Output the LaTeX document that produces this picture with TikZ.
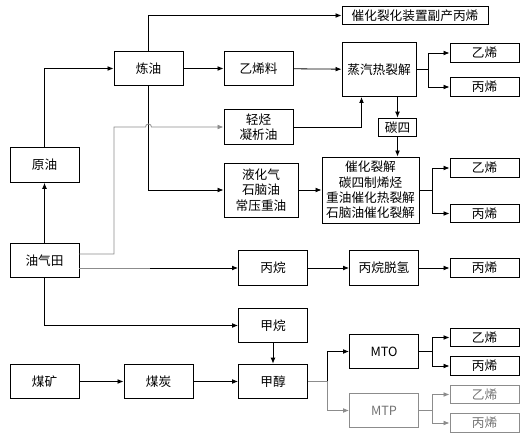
\documentclass[tikz,border=0pt]{standalone}
\usepackage{fontspec}
\newfontfamily\cjkfont{Noto Sans CJK SC}
\usetikzlibrary{arrows.meta}

\begin{document}
\begin{tikzpicture}[x=0.75pt,y=0.75pt,yscale=-1,xscale=1,
	>={Latex[length=4.5pt,width=3.6pt]},
	box/.style={draw,line width=0.7pt,inner sep=0.75pt,align=center,minimum width=51.75pt,minimum height=26pt,font=\cjkfont\fontsize{9.5}{11.5}\selectfont},
	prod/.style={box,minimum height=14pt},
	link/.style={->,line width=0.6pt},
	greylink/.style={link,draw=black!45},
	faded/.style={draw=black!45,text=black!55}]
	\useasboundingbox (0,0) rectangle (532,445);
	
	%Shape: sources
	\node [box] (yuanyou) at (44.5,165) {原油};
	\node [box] (youqitian) at (44.5,260.5) {油气田};
	\node [box] (meikuang) at (44.5,381.5) {煤矿};
	\node [box] (meitan) at (158.5,381.5) {煤炭};
	
	%Shape: refinery branch
	\node [box] (lianyou) at (148.5,68.5) {炼油};
	\node [box] (yixiliao) at (258.5,68.5) {乙烯料};
	\node [box] (qingting) at (258.5,127) {轻烃\\凝析油};
	\node [box,minimum width=55.5pt,minimum height=40.5pt] (yehuaqi) at (261,190) {液化气\\石脑油\\常压重油};
	\node [prod,minimum width=109.5pt] (fuchan) at (415,15.5) {催化裂化装置副产丙烯};
	\node [box,minimum width=55.5pt,minimum height=41pt] (zhengqi) at (379,69.5) {蒸汽热裂解};
	\node [prod,minimum width=29pt] (tansi) at (397.5,127.5) {碳四};
	\node [box,minimum width=72.75pt,minimum height=49.5pt] (liejie) at (370.5,190) {催化裂解\\碳四制烯烃\\重油催化热裂解\\石脑油催化裂解};
	
	%Shape: gas and coal branch
	\node [box] (bingwan) at (273,268) {丙烷};
	\node [box] (tuoqing) at (384,268) {丙烷脱氢};
	\node [box] (jiawan) at (273,325.5) {甲烷};
	\node [box] (jiachun) at (273,381.5) {甲醇};
	\node [box] (mto) at (384,351.5) {MTO};
	\node [box,faded] (mtp) at (384,410.5) {MTP};
	
	%Shape: products
	\node [prod] (yixi1) at (484.5,53) {乙烯};
	\node [prod] (bingxi1) at (484.5,87) {丙烯};
	\node [prod] (yixi2) at (484.5,168) {乙烯};
	\node [prod] (bingxi2) at (484.5,213.5) {丙烯};
	\node [prod] (bingxi3) at (484.5,268) {丙烯};
	\node [prod] (yixi4) at (484.5,337.5) {乙烯};
	\node [prod] (bingxi4) at (484.5,366) {丙烯};
	\node [prod,faded] (yixi5) at (484.5,394.5) {乙烯};
	\node [prod,faded] (bingxi5) at (484.5,423) {丙烯};
	
	% turn points
	\coordinate (gturn) at (114,254);
	\coordinate (gsplit) at (150,268);
	
	%Straight Lines: crude oil and refinery
	\draw [link] (youqitian) -- (yuanyou);
	\draw [link] (yuanyou.north) |- (lianyou.west);
	\draw [link] (lianyou.north) |- (fuchan.west);
	\draw [link] (lianyou) -- (yixiliao);
	\draw [link] (lianyou.south) |- (yehuaqi.west);
	\draw [greylink] (youqitian.east |- gturn) -- (gturn) -- (114,127) -- (145.5,127) arc [start angle=180,end angle=360,radius=3] -- (qingting.west);
	\draw [link] (yixiliao) -- (zhengqi);
	\draw [link] (qingting.east) -| (361.5,97);
	\draw [link] (zhengqi.south -| tansi.north) -- (tansi.north);
	\draw [link] (tansi.south) -- (tansi.south |- liejie.north);
	\draw [link] (yehuaqi) -- (liejie);
	\draw [link] (zhengqi.east) -- ++(12,0) |- (yixi1.west);
	\draw [link] (zhengqi.east) -- ++(12,0) |- (bingxi1.west);
	\draw [link] (liejie.east) -- ++(13,0) |- (yixi2.west);
	\draw [link] (liejie.east) -- ++(13,0) |- (bingxi2.west);
	
	%Straight Lines: gas field and coal
	\draw [line width=0.6pt,draw=black!45] (youqitian.east |- gsplit) -- (gsplit);
	\draw [link] (gsplit) -- (bingwan.west);
	\draw [link] (bingwan) -- (tuoqing);
	\draw [link] (tuoqing) -- (bingxi3);
	\draw [link] (youqitian.south) |- (jiawan.west);
	\draw [link] (jiawan) -- (jiachun);
	\draw [link] (meikuang) -- (meitan);
	\draw [link] (meitan) -- (jiachun);
	\draw [link] (jiachun.east) -- ++(19,0) |- (mto.west);
	\draw [link,draw=black!45] (jiachun.east) -- ++(19,0) |- (mtp.west);
	\draw [link] (mto.east) -- ++(13,0) |- (yixi4.west);
	\draw [link] (mto.east) -- ++(13,0) |- (bingxi4.west);
	\draw [link,draw=black!45] (mtp.east) -- ++(13,0) |- (yixi5.west);
	\draw [link,draw=black!45] (mtp.east) -- ++(13,0) |- (bingxi5.west);
	
\end{tikzpicture}
\end{document}
